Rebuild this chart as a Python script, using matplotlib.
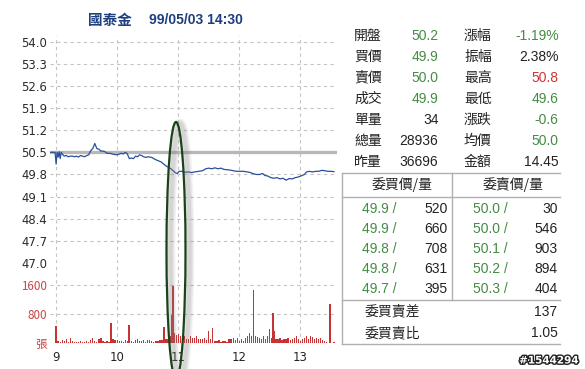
import matplotlib
matplotlib.use('Agg')
import matplotlib.pyplot as plt
from matplotlib.patches import Ellipse
import matplotlib.patheffects as pe

# ---------------- data ----------------
title_name = '國泰金'
title_time = '99/05/03 14:30'
prev_close = 50.5

# price line: minutes after 09:00 and price
price_min = [-6, -1, 0, 1, 2, 3, 4, 5, 6, 8, 10, 12, 14, 16, 18, 20, 22, 24, 26, 28,
             30, 32, 34, 36, 38, 40, 42, 44, 46, 48, 50, 53, 56, 60, 64, 66, 68, 70, 72, 74,
             76, 78, 80, 82, 84, 86, 88, 90, 94, 97, 100, 103, 106, 109, 112, 115, 117, 119, 121, 124,
             127, 130, 133, 136, 140, 144, 147, 150, 153, 156, 159, 162, 165, 168, 171, 174, 177, 180, 184, 188,
             191, 194, 197, 200, 203, 205, 208, 211, 214, 217, 220, 223, 226, 229, 232, 235, 238, 241, 244, 246,
             249, 252, 255, 258, 261, 264, 267, 270, 273]
price_val = [50.5, 50.5, 50.13, 50.5, 50.35, 50.52, 50.3, 50.5, 50.45, 50.38, 50.4, 50.36, 50.38, 50.38, 50.36, 50.38, 50.35, 50.4, 50.38, 50.36,
             50.4, 50.42, 50.55, 50.62, 50.78, 50.62, 50.6, 50.54, 50.54, 50.52, 50.47, 50.47, 50.44, 50.42, 50.47, 50.45, 50.5, 50.45, 50.3, 50.32,
             50.3, 50.38, 50.36, 50.42, 50.4, 50.36, 50.34, 50.36, 50.34, 50.28, 50.24, 50.2, 50.12, 50.05, 50.0, 49.92, 49.86, 49.83, 49.9, 49.9,
             49.87, 49.88, 49.86, 49.88, 49.9, 49.92, 49.98, 50.0, 49.98, 50.01, 49.98, 50.0, 49.96, 49.95, 49.94, 49.92, 49.9, 49.9, 49.9, 49.88,
             49.86, 49.82, 49.8, 49.8, 49.83, 49.77, 49.75, 49.7, 49.68, 49.7, 49.66, 49.68, 49.62, 49.67, 49.66, 49.7, 49.72, 49.76, 49.8, 49.88,
             49.9, 49.88, 49.9, 49.9, 49.93, 49.92, 49.9, 49.9, 49.89]

# volume (lots): regular bars every 2 minutes, plus the large spikes
vol_min = list(range(0, 272, 2))
vol_val = [40, 60, 30, 80, 50, 110, 40, 150, 60, 30,
           40, 30, 50, 20, 40, 60, 30, 80, 150, 50,
           40, 120, 140, 60, 30, 50, 40, 60, 100, 70,
           80, 50, 60, 40, 90, 60, 150, 60, 40, 80,
           100, 50, 60, 80, 40, 90, 70, 60, 30, 50,
           60, 90, 80, 60, 100, 120, 200, 250, 280, 220,
           250, 200, 150, 180, 120, 100, 180, 140, 150, 200,
           120, 100, 120, 150, 80, 330, 100, 410, 60, 50,
           80, 40, 50, 60, 40, 120, 100, 150, 80, 130,
           60, 100, 60, 150, 200, 280, 180, 150, 200, 170,
           150, 100, 180, 120, 200, 380, 150, 340, 100, 120,
           150, 80, 120, 100, 150, 90, 110, 130, 200, 100,
           60, 120, 150, 180, 120, 200, 160, 120, 150, 100,
           130, 80, 60, 40, 0, 0]
spike_min = [0, 54, 72, 106, 114, 115, 194, 213, 269, 273]
spike_val = [470, 550, 500, 440, 770, 1570, 1460, 830, 1080, 40]

price_ticks = [54.0, 53.3, 52.6, 51.9, 51.2, 50.5, 49.8, 49.1, 48.4, 47.7, 47.0]
vol_ticks = [0, 800, 1600]
vol_tick_labels = ['張', '800', '1600']
hour_ticks = [0, 60, 120, 180, 240]
hour_labels = ['9', '10', '11', '12', '13']

quote_labels_1 = ['開盤', '買價', '賣價', '成交', '單量', '總量', '昨量']
quote_values_1 = ['50.2', '49.9', '50.0', '49.9', '34', '28936', '36696']
quote_labels_2 = ['漲幅', '振幅', '最高', '最低', '漲跌', '均價', '金額']
quote_values_2 = ['-1.19%', '2.38%', '50.8', '49.6', '-0.6', '50.0', '14.45']

bid_price = ['49.9', '49.9', '49.8', '49.8', '49.7']
bid_vol = [520, 660, 708, 631, 395]
ask_price = ['50.0', '50.0', '50.1', '50.2', '50.3']
ask_vol = [30, 546, 903, 894, 404]
bid_ask_diff = '137'
bid_ask_ratio = '1.05'
watermark = '#1544294'

# ---------------- style ----------------
G = '#448c44'
R = '#d03434'
K = '#222222'
BLUE_T = '#1d3f7f'
GRID = '#c4c4c4'
CJK = ['Noto Sans CJK TC', 'DejaVu Sans']
NUM = ['Liberation Sans', 'DejaVu Sans']
c1 = [G, G, G, G, K, K, K]
c2 = [G, K, R, G, G, G, K]

W, H = 585, 369
fig = plt.figure(figsize=(W / 100, H / 100), dpi=100)


def fx(x):
    return x / W


def fy(y):
    return 1 - y / H


x0, x1 = 50, 337
ax_p = fig.add_axes([fx(x0), fy(263), fx(x1) - fx(x0), fy(36) - fy(263)])
ax_v = fig.add_axes([fx(x0), fy(343), fx(x1) - fx(x0), fy(263) - fy(343)], sharex=ax_p)

for ax in (ax_p, ax_v):
    for s in ax.spines.values():
        s.set_visible(False)
    ax.grid(True, color=GRID, linestyle=(0, (3, 3)), linewidth=0.8)
    ax.set_axisbelow(True)
    ax.tick_params(length=0)

ax_p.set_xlim(-6, 276)
ax_p.set_ylim(47.0, 54.18)
ax_p.set_yticks(price_ticks)
ax_p.set_yticklabels([f'{v:.1f}' for v in price_ticks], fontsize=8.4, color='#2a2a2a',
                     family='DejaVu Sans')
ax_p.tick_params(axis='y', pad=2)
ax_p.tick_params(axis='x', labelbottom=False)
ax_p.set_xticks(hour_ticks)
ax_p.axhline(prev_close, color='#b8b8b8', lw=2.4, zorder=1)
ax_p.plot(price_min, price_val, color='#2b4f9b', lw=0.9, zorder=3)

ax_v.bar(vol_min, vol_val, width=1.3, color='#c83232', linewidth=0, zorder=3,
         antialiased=False)
ax_v.bar(spike_min, spike_val, width=1.8, color='#c83232', linewidth=0, zorder=3,
         antialiased=False)
ax_v.set_ylim(0, 2207)
ax_v.set_yticks(vol_ticks)
ax_v.set_yticklabels(vol_tick_labels, fontsize=8.4, color='#c84545', family=CJK)
ax_v.tick_params(axis='y', pad=2)
ax_v.set_xticks(hour_ticks)
ax_v.set_xticklabels(hour_labels, fontsize=8.4, color=K, family='DejaVu Sans')
ax_v.tick_params(axis='x', pad=6)

# ---------------- overlay (title, panel, annotation) ----------------
ax_o = fig.add_axes([0, 0, 1, 1], zorder=10)
ax_o.set_xlim(0, W)
ax_o.set_ylim(H, 0)
ax_o.axis('off')
ax_o.patch.set_alpha(0)

ax_o.text(88, 19.5, title_name, ha='left', va='center', fontsize=10.5, fontweight='bold',
          color=BLUE_T, family=CJK)
ax_o.text(149, 19.5, title_time, ha='left', va='center', fontsize=10, fontweight='bold',
          color=BLUE_T, family=NUM)

# quote table
for i in range(len(quote_labels_1)):
    y = 35.7 + i * 21
    ax_o.text(354, y, quote_labels_1[i], ha='left', va='center', fontsize=10, color=K, family=CJK)
    ax_o.text(438.5, y, quote_values_1[i], ha='right', va='center', fontsize=10, color=c1[i], family=NUM)
    ax_o.text(464, y, quote_labels_2[i], ha='left', va='center', fontsize=10, color=K, family=CJK)
    ax_o.text(558.5, y, quote_values_2[i], ha='right', va='center', fontsize=10, color=c2[i], family=NUM)

# order book box
LC = '#b0b0b0'
ax_o.plot([342, 342], [173, 344], color=LC, lw=1)
ax_o.plot([342, 560], [173, 173], color=LC, lw=1)
ax_o.plot([342, 560], [197, 197], color=LC, lw=1)
ax_o.plot([452, 452], [173, 300], color=LC, lw=1)
ax_o.plot([342, 560], [300, 300], color=LC, lw=1)
ax_o.plot([342, 560], [344, 344], color=LC, lw=1)

ax_o.text(402, 185, '委買價/量', ha='center', va='center', fontsize=10, color=K, family=CJK)
ax_o.text(513, 185, '委賣價/量', ha='center', va='center', fontsize=10, color=K, family=CJK)
for i in range(len(bid_price)):
    y = 209 + i * 20
    ax_o.text(362.5, y, f'{bid_price[i]} /', ha='left', va='center', fontsize=10, color=G, family=NUM)
    ax_o.text(447.5, y, str(bid_vol[i]), ha='right', va='center', fontsize=10, color=K, family=NUM)
    ax_o.text(473, y, f'{ask_price[i]} /', ha='left', va='center', fontsize=10, color=G, family=NUM)
    ax_o.text(557.5, y, str(ask_vol[i]), ha='right', va='center', fontsize=10, color=K, family=NUM)

ax_o.text(365, 311.7, '委買賣差', ha='left', va='center', fontsize=10, color=K, family=CJK)
ax_o.text(557.5, 311.7, bid_ask_diff, ha='right', va='center', fontsize=10, color=K, family=NUM)
ax_o.text(365, 333.3, '委買賣比', ha='left', va='center', fontsize=10, color=K, family=CJK)
ax_o.text(557.5, 333.3, bid_ask_ratio, ha='right', va='center', fontsize=10, color=K, family=NUM)

ax_o.text(549, 360.5, watermark, ha='center', va='center', fontsize=7.5, fontweight='bold',
          color='white', family='DejaVu Sans',
          path_effects=[pe.withStroke(linewidth=2, foreground='#222222')])

# highlight ellipse with soft shadow
for lw, a in [(7, 0.10), (5, 0.12), (3, 0.15)]:
    ax_o.add_patch(Ellipse((180, 252), 19, 257, fill=False, ec='#808080', lw=lw, alpha=a))
ax_o.add_patch(Ellipse((176, 250.5), 19, 257, fill=False, ec='#1a431a', lw=1.6))

fig.savefig('out.png', dpi=100)
